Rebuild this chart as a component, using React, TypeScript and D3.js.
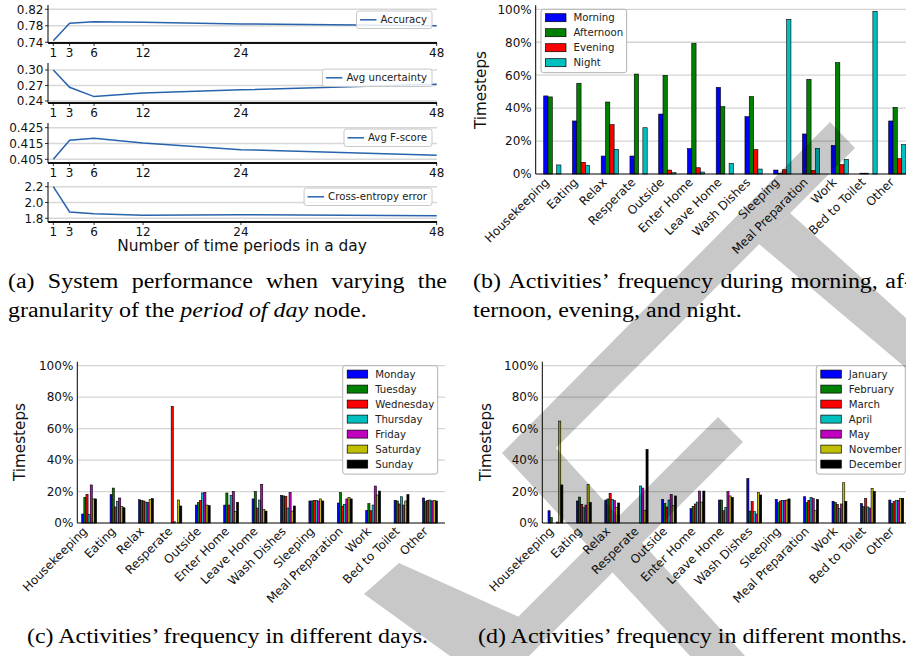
import React, { useLayoutEffect, useRef, useState } from 'react';
import * as d3 from 'd3';

// ---------- Panel (a) data ----------
const periods = [1, 3, 6, 12, 24, 48];
const accuracy = [0.744, 0.786, 0.790, 0.7885, 0.7845, 0.780];
const avgUncertainty = [0.300, 0.2665, 0.2485, 0.2555, 0.2615, 0.2725];
const avgFScore = [0.405, 0.417, 0.4183, 0.4153, 0.4111, 0.4075];
const crossEntropy = [2.20, 1.88, 1.858, 1.838, 1.845, 1.833];
const accTicks = [0.74, 0.78, 0.82];
const uncTicks = [0.24, 0.27, 0.30];
const fTicks = [0.405, 0.415, 0.425];
const ceTicks = [1.8, 2.0, 2.2];

// ---------- Bar chart data ----------
const activities = ['Housekeeping', 'Eating', 'Relax', 'Resperate', 'Outside', 'Enter Home', 'Leave Home', 'Wash Dishes', 'Sleeping', 'Meal Preparation', 'Work', 'Bed to Toilet', 'Other'];
const pctTicks = [0, 20, 40, 60, 80, 100];

const periodNames = ['Morning', 'Afternoon', 'Evening', 'Night'];
const morning = [47.4, 32.2, 10.9, 10.9, 36.4, 15.4, 52.6, 34.8, 2.4, 24.3, 17.4, 0.5, 32.2];
const afternoon = [46.8, 55.1, 43.7, 60.7, 59.9, 79.4, 40.9, 47.0, 0.5, 57.5, 67.6, 0.5, 40.5];
const evening = [0.0, 7.1, 30.0, 0.0, 2.4, 3.8, 0.0, 14.8, 2.6, 2.2, 5.7, 0.0, 9.3];
const night = [5.5, 5.3, 15.0, 28.1, 0.8, 1.2, 6.3, 3.0, 93.9, 15.6, 8.9, 98.8, 17.8];

const dayNames = ['Monday', 'Tuesday', 'Wednesday', 'Thursday', 'Friday', 'Saturday', 'Sunday'];
const monday = [5.7, 18.0, 14.8, 0, 11.4, 11.4, 15.3, 17.6, 14.0, 12.7, 8.0, 14.4, 15.9];
const tuesday = [16.3, 22.2, 14.2, 0, 13.1, 19.1, 19.9, 17.2, 14.0, 19.3, 12.3, 14.0, 13.6];
const wednesday = [18.2, 10.2, 14.0, 74.2, 14.4, 11.4, 9.5, 17.0, 14.4, 10.8, 7.8, 12.1, 14.4];
const thursday = [5.3, 13.8, 13.3, 0.8, 19.1, 17.4, 14.6, 9.5, 14.2, 11.9, 11.4, 16.7, 14.6];
const friday = [24.2, 15.9, 13.0, 0, 19.5, 19.9, 24.6, 19.5, 14.0, 15.3, 23.5, 11.4, 14.0];
const saturday = [15.3, 10.4, 15.0, 14.6, 11.4, 7.2, 8.7, 7.6, 15.3, 16.1, 17.8, 14.0, 14.2];
const sunday = [15.3, 9.7, 15.5, 10.8, 11.0, 13.1, 7.6, 10.8, 14.0, 15.3, 20.3, 18.0, 14.0];

const monthNames = ['January', 'February', 'March', 'April', 'May', 'November', 'December'];
const january = [7.8, 14.0, 14.6, 0, 15.0, 9.1, 14.6, 28.2, 15.0, 16.7, 13.8, 12.3, 14.6];
const february = [3.4, 16.5, 15.3, 0, 12.5, 10.6, 14.6, 7.6, 12.9, 13.1, 13.1, 10.4, 12.3];
const march = [0, 11.9, 18.9, 0, 10.2, 12.1, 7.8, 13.6, 14.0, 14.4, 11.9, 15.5, 13.6];
const april = [0, 9.7, 15.0, 23.5, 14.6, 13.3, 10.0, 7.2, 14.2, 16.3, 9.3, 10.2, 14.2];
const may = [0.6, 11.4, 14.2, 22.2, 18.2, 20.3, 19.9, 5.7, 14.4, 15.5, 12.1, 9.5, 14.4];
const november = [64.8, 24.4, 10.0, 8.1, 11.2, 13.3, 17.2, 19.3, 14.6, 7.8, 25.6, 22.0, 15.5];
const december = [24.2, 13.1, 12.7, 46.8, 17.2, 20.3, 16.3, 17.8, 15.3, 15.0, 13.8, 20.1, 15.7];

const mplColors = ['#0000ff', '#008000', '#ff0000', '#00bfbf', '#bf00bf', '#bfbf00', '#000000'];

// ---------- Caption texts ----------
const capA1 = ['(a)', 'System', 'performance', 'when', 'varying', 'the'];
const capA2 = ['granularity of the ', 'period of day', ' node.'];
const capB1 = ['(b)', 'Activities\u2019', 'frequency', 'during', 'morning,', 'af-'];
const capB2 = 'ternoon, evening, and night.';
const capC = '(c) Activities\u2019 frequency in different days.';
const capD = '(d) Activities\u2019 frequency in different months.';

const FONT = 'DejaVu Sans';
const SERIF = "'Liberation Serif', 'Times New Roman', serif";

let ctx: CanvasRenderingContext2D | null = null;
function textW(t: string, font: string): number {
  if (!ctx && typeof document !== 'undefined') ctx = document.createElement('canvas').getContext('2d');
  if (!ctx) return t.length * 7;
  ctx.font = font;
  return ctx.measureText(t).width;
}

// ---------- Panel (a) ----------
function PanelA() {
  const x = d3.scaleLinear().domain([1, 48]).range([53.3, 436.7]);
  const left = 48, right = 437;
  const lineColor = '#2763ad';
  const subs = [
    { name: 'Accuracy', data: accuracy, domain: [0.7383, 0.8304], top: 5, bottom: 43, ticks: accTicks, fmt: '.2f' },
    { name: 'Avg uncertainty', data: avgUncertainty, domain: [0.2361, 0.3135], top: 63, bottom: 103, ticks: uncTicks, fmt: '.2f' },
    { name: 'Avg F-score', data: avgFScore, domain: [0.40266, 0.42797], top: 123, bottom: 163, ticks: fTicks, fmt: '.3f' },
    { name: 'Cross-entropy error', data: crossEntropy, domain: [1.753, 2.2595], top: 182, bottom: 222, ticks: ceTicks, fmt: '.1f' },
  ];
  return (
    <g>
      {subs.map((s, k) => {
        const y = d3.scaleLinear().domain(s.domain).range([s.bottom, s.top]);
        const line = d3.line<number>().x((_, i) => x(periods[i])).y(d => y(d));
        const fmt = d3.format(s.fmt);
        const lf = `10.2px "${FONT}"`;
        const tw = textW(s.name, lf);
        const boxR = 432;
        const textStart = boxR - 5 - tw;
        const boxL = textStart - 24;
        const ly = s.top + 6;
        return (
          <g key={k}>
            {s.ticks.map(t => (
              <line key={t} x1={left} x2={right} y1={y(t)} y2={y(t)} stroke="#d8d8d8" strokeWidth={1.5} />
            ))}
            <path d={line(s.data) || ''} fill="none" stroke={lineColor} strokeWidth={1.5} />
            <line x1={left} x2={left} y1={s.top} y2={s.bottom} stroke="#000" strokeWidth={1} />
            <line x1={left} x2={right} y1={s.bottom} y2={s.bottom} stroke="#111" strokeWidth={1.8} />
            {s.ticks.map(t => (
              <g key={'t' + t}>
                <line x1={left - 3} x2={left} y1={y(t)} y2={y(t)} stroke="#000" strokeWidth={0.8} />
                <text x={left - 4.5} y={y(t)} dy="0.36em" textAnchor="end" fontSize={12} fill="#111">{fmt(t)}</text>
              </g>
            ))}
            {periods.map(p => (
              <g key={'x' + p}>
                <line x1={x(p)} x2={x(p)} y1={s.bottom} y2={s.bottom + 3} stroke="#000" strokeWidth={0.8} />
                <text x={x(p)} y={s.bottom + 13.5} textAnchor="middle" fontSize={12} fill="#111">{p}</text>
              </g>
            ))}
            <rect x={boxL} y={ly} width={boxR - boxL} height={17.5} rx={2.5} fill="#fff" fillOpacity={0.85} stroke="#c8c8c8" strokeWidth={1} />
            <line x1={boxL + 3.5} x2={boxL + 20} y1={ly + 8.8} y2={ly + 8.8} stroke={lineColor} strokeWidth={1.5} />
            <text x={textStart} y={ly + 8.8} dy="0.36em" fontSize={10.2} fill="#222">{s.name}</text>
          </g>
        );
      })}
      <text x={242} y={251} textAnchor="middle" fontSize={15.4} fill="#111">Number of time periods in a day</text>
    </g>
  );
}

// ---------- Bar panels ----------
type BarProps = {
  series: number[][];
  names: string[];
  spineX: number; firstX: number; spacing: number; barW: number;
  y0: number; y100: number; rightX: number;
  legendX: number; ylabelX: number; ylabelY: number;
};

function BarPanel(p: BarProps) {
  const n = activities.length;
  const x = d3.scaleLinear().domain([0, n - 1]).range([p.firstX, p.firstX + p.spacing * (n - 1)]);
  const y = d3.scaleLinear().domain([0, 100]).range([p.y0, p.y100]);
  const lf = `10.2px "${FONT}"`;
  const maxW = d3.max(p.names, s => textW(s, lf)) || 50;
  const legL = p.legendX;
  const legW = 32 + maxW + 4;
  const legT = y(100);
  const legH = p.names.length * 15 + 3.4;
  return (
    <g>
      {pctTicks.filter(t => t > 0).map(t => (
        <line key={t} x1={p.spineX} x2={p.rightX} y1={y(t)} y2={y(t)} stroke="#d4d4d4" strokeWidth={1.3} />
      ))}
      {p.series.map((vals, s) => (
        <g key={s}>
          {vals.map((v, i) => v > 0 ? (
            <rect key={i} x={x(i) + s * p.barW} y={y(v)} width={p.barW} height={p.y0 - y(v)}
              fill={mplColors[s]} stroke="#000" strokeWidth={0.6} />
          ) : null)}
        </g>
      ))}
      <line x1={p.spineX} x2={p.spineX} y1={y(100) - 4} y2={p.y0} stroke="#000" strokeWidth={1} />
      <line x1={p.spineX} x2={p.rightX} y1={p.y0} y2={p.y0} stroke="#000" strokeWidth={1.2} />
      {pctTicks.map(t => (
        <text key={'l' + t} x={p.spineX - 4} y={y(t)} dy="0.36em" textAnchor="end" fontSize={12} fill="#111">{t + '%'}</text>
      ))}
      {activities.map((a, i) => (
        <text key={a} transform={`translate(${x(i) + 6.3},${p.y0 + 9}) rotate(-45)`} textAnchor="end" fontSize={12} fill="#111">{a}</text>
      ))}
      <text transform={`translate(${p.ylabelX},${p.ylabelY}) rotate(-90)`} textAnchor="middle" fontSize={15.2} fill="#111">Timesteps</text>
      <rect x={legL} y={legT} width={legW} height={legH} rx={2.5} fill="#fff" stroke="#b0b0b0" strokeWidth={1} />
      {p.names.map((nm, k) => {
        const cy = legT + 8.4 + k * 15;
        return (
          <g key={nm}>
            <rect x={legL + 4.5} y={cy - 4} width={20.5} height={8} fill={mplColors[k]} stroke="#000" strokeWidth={0.7} />
            <text x={legL + 32.5} y={cy} dy="0.36em" fontSize={10.2} fill="#222">{nm}</text>
          </g>
        );
      })}
    </g>
  );
}

// ---------- Captions (measured in the SVG itself) ----------
const CAP_FS = 20.5;

function Captions() {
  const ref = useRef<SVGGElement>(null);
  const [w, setW] = useState<number[] | null>(null);
  // measurement order: capC, capD, A1 words, B1 words, A2 line, B2 line
  useLayoutEffect(() => {
    if (!ref.current) return;
    const texts = Array.from(ref.current.querySelectorAll('text')) as SVGTextElement[];
    setW(texts.map(t => t.getComputedTextLength()));
  }, []);

  if (!w) {
    return (
      <g ref={ref} visibility="hidden" fontFamily={SERIF} fontSize={CAP_FS} style={{ whiteSpace: 'pre' }}>
        <text>{capC}</text>
        <text>{capD}</text>
        {capA1.map((t, i) => <text key={'a' + i}>{t}</text>)}
        {capB1.map((t, i) => <text key={'b' + i}>{t}</text>)}
        <text>{capA2[0]}<tspan fontStyle="italic">{capA2[1]}</tspan>{capA2[2]}</text>
        <text>{capB2}</text>
      </g>
    );
  }
  const k = 401 / w[0];
  const wD = w[1] * k;
  const wA1 = w.slice(2, 2 + capA1.length).map(v => v * k);
  const wB1 = w.slice(2 + capA1.length, 2 + capA1.length + capB1.length).map(v => v * k);
  const wA2 = w[2 + capA1.length + capB1.length] * k;
  const wB2 = w[3 + capA1.length + capB1.length] * k;

  const justified = (words: string[], ws: number[], x0: number, x1: number, y: number, key: string) => {
    const gap = (x1 - x0 - d3.sum(ws)) / (words.length - 1);
    let cx = x0;
    return words.map((t, i) => {
      const el = <text key={key + i} x={cx} y={y} textLength={ws[i]} lengthAdjust="spacingAndGlyphs">{t}</text>;
      cx += ws[i] + gap;
      return el;
    });
  };

  return (
    <g fontFamily={SERIF} fontSize={CAP_FS} fill="#000" style={{ whiteSpace: 'pre' }}>
      {justified(capA1, wA1, 8, 447, 288, 'a')}
      <text x={8} y={317} textLength={wA2} lengthAdjust="spacingAndGlyphs">
        {capA2[0]}<tspan fontStyle="italic">{capA2[1]}</tspan>{capA2[2]}
      </text>
      {justified(capB1, wB1, 473, 912, 288, 'b')}
      <text x={473} y={317} textLength={wB2} lengthAdjust="spacingAndGlyphs">{capB2}</text>
      <text x={227.5 - 401 / 2} y={643} textLength={401} lengthAdjust="spacingAndGlyphs">{capC}</text>
      <text x={692.5 - wD / 2} y={643} textLength={wD} lengthAdjust="spacingAndGlyphs">{capD}</text>
    </g>
  );
}

// ---------- Watermark ----------
const wmShapes: [number, number][][] = [
  [[830, 122], [855, 148], [556, 448], [745, 656], [690, 656], [502, 453]],
  [[790, 213], [906, 318], [906, 368], [759, 244]],
  [[718, 417], [743, 442], [529, 656], [479, 656]],
  [[364, 594], [399, 563], [530, 622], [512, 656], [450, 656]],
];
function Watermark() {
  return (
    <g opacity={0.21}>
      {wmShapes.map((pts, i) => (
        <polygon key={i} points={pts.map(p => p.join(',')).join(' ')} fill="#000" />
      ))}
    </g>
  );
}

export default function App() {
  return (
    <div style={{ position: 'absolute', left: 0, top: 0 }}>
      <svg width={906} height={656} style={{ display: 'block', background: '#fff' }} fontFamily={FONT}>
        <rect x={0} y={0} width={906} height={656} fill="#fff" />
        <PanelA />
        <BarPanel series={[morning, afternoon, evening, night]} names={periodNames}
          spineX={535.7} firstX={543.7} spacing={28.75} barW={4.31} y0={174} y100={9.3} rightX={906}
          legendX={541} ylabelX={486} ylabelY={90} />
        <BarPanel series={[monday, tuesday, wednesday, thursday, friday, saturday, sunday]} names={dayNames}
          spineX={77.3} firstX={81.7} spacing={28.4} barW={2.13} y0={523} y100={365.7} rightX={445}
          legendX={342.7} ylabelX={25} ylabelY={442} />
        <BarPanel series={[january, february, march, april, may, november, december]} names={monthNames}
          spineX={542.3} firstX={548} spacing={28.4} barW={2.13} y0={523} y100={365.7} rightX={906}
          legendX={816.3} ylabelX={491} ylabelY={442} />
        <Captions />
        <Watermark />
      </svg>
    </div>
  );
}
